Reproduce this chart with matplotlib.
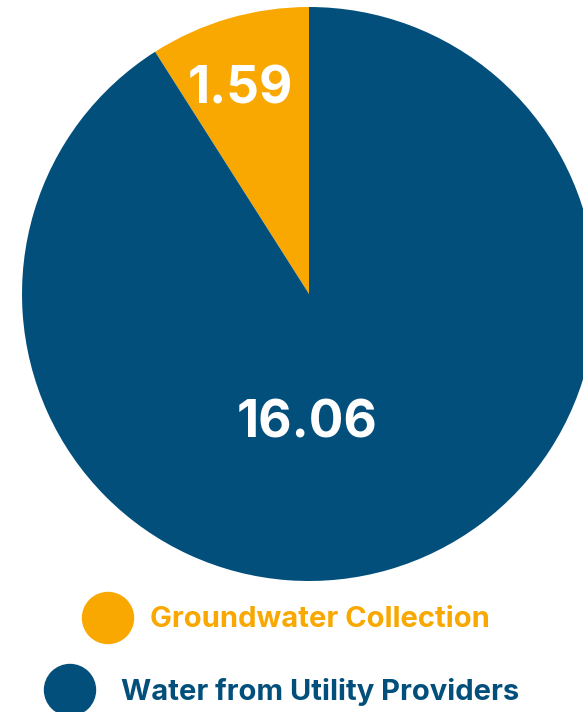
import matplotlib
matplotlib.use('Agg')
import matplotlib.pyplot as plt
from matplotlib.patches import Circle

# water sources
labels = ['Groundwater Collection', 'Water from Utility Providers']
values = [1.59, 16.06]
colors = ['#f8a800', '#034f7c']

W, H = 583, 712
fig = plt.figure(figsize=(W / 100, H / 100), dpi=100)
ax = fig.add_axes([0, 0, 1, 1])

# pie centre / radius in pixel units (y measured from bottom)
cx, cy, r = 309, H - 294, 287
wedges, _ = ax.pie(values, colors=colors, startangle=90, counterclock=True,
                   center=(cx, cy), radius=r,
                   wedgeprops=dict(linewidth=0))
ax.set_xlim(0, W)
ax.set_ylim(0, H)
ax.set_aspect('equal')
ax.axis('off')

plt.rcParams['font.family'] = ['Inter', 'DejaVu Sans']

# value labels inside the slices
ax.text(240, H - 103, f'{values[0]:.2f}', color='white', fontsize=37,
        fontweight='bold', ha='center', va='baseline')
ax.text(307, H - 438, f'{values[1]:.2f}', color='white', fontsize=37,
        fontweight='bold', ha='center', va='baseline')

# legend
legend_pos = [(108, 618, 150, 627, 21), (70, 690, 121, 700, 21)]
for (x, y, tx, ty, fs), lab, c in zip(legend_pos, labels, colors):
    ax.add_patch(Circle((x, H - y), 25.5, color=c, clip_on=False))
    ax.text(tx, H - ty, lab, color=c, fontsize=fs, fontweight='bold',
            ha='left', va='baseline')

fig.savefig('out.png', dpi=100)
